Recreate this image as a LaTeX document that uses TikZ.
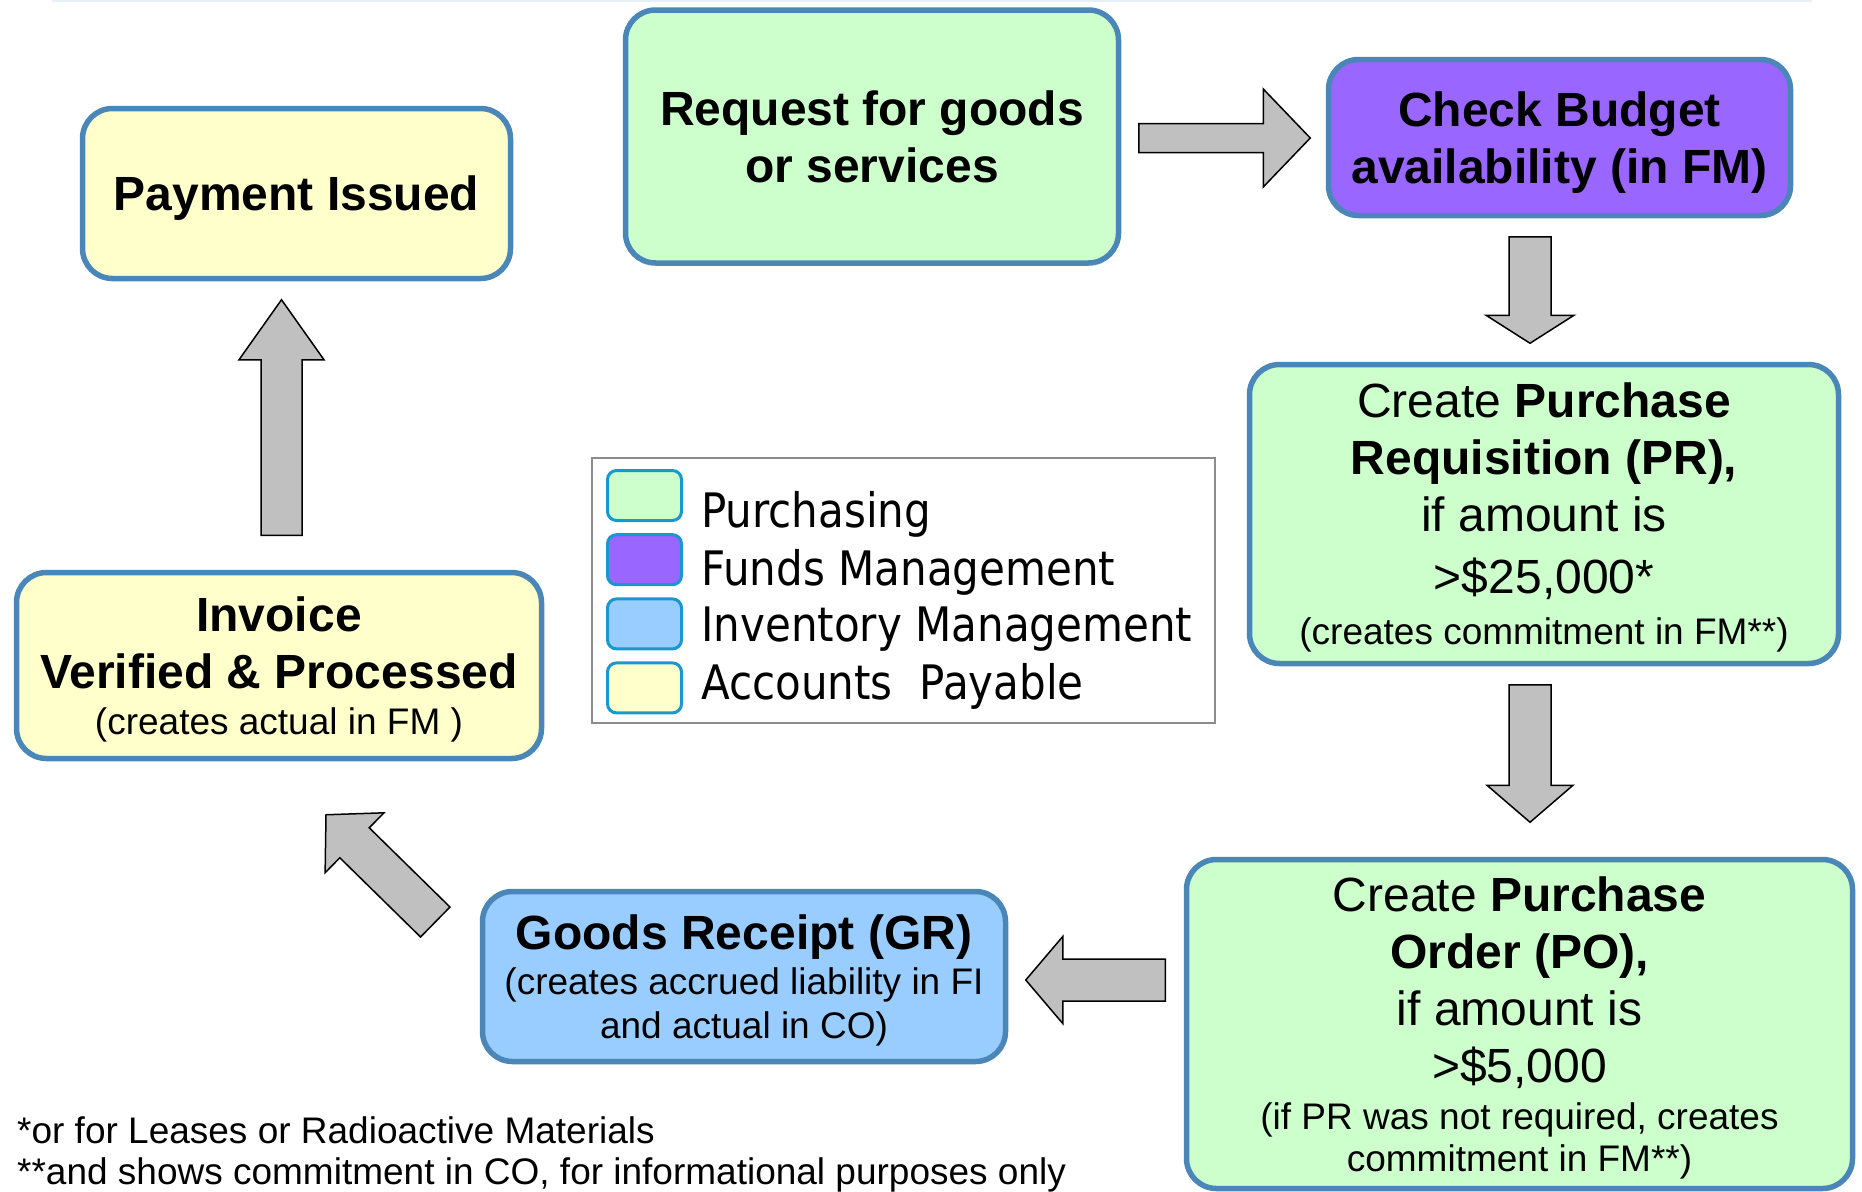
\documentclass[tikz,border=0pt]{standalone}
\usepackage{fontspec}
\setmainfont{Liberation Sans}
\newfontfamily\legendfamily{DejaVu Sans}[FakeStretch=0.885]
\usetikzlibrary{calc}

\definecolor{purchgreen}{HTML}{CCFFCC}
\definecolor{fmpurple}{HTML}{9966FF}
\definecolor{invblue}{HTML}{99CCFF}
\definecolor{apyellow}{HTML}{FFFFCC}
\definecolor{boxblue}{HTML}{4A87B8}
\definecolor{swatchblue}{HTML}{1799CF}
\definecolor{legendgray}{HTML}{8C8C8C}
\definecolor{arrowgray}{HTML}{C0C0C0}
\definecolor{rulecolor}{HTML}{E8EEF8}

\newcommand{\boxfont}{\fontsize{48}{57}\selectfont}
\newcommand{\notefont}{\fontsize{37}{45}\selectfont}
\newcommand{\legendfont}{\legendfamily\fontsize{47.5}{57}\selectfont}

\tikzset{
    stepbox/.style={draw=boxblue, line width=5.5pt, rounded corners=30pt,
                    align=center, inner sep=0pt, text depth=0pt, font=\boxfont},
    swatch/.style={draw=swatchblue, line width=3pt, rounded corners=9pt,
                   minimum width=74pt, minimum height=50pt, inner sep=0pt},
    legendtext/.style={anchor=base west, inner sep=0pt, font=\legendfont},
    notetext/.style={anchor=base west, inner sep=0pt, font=\notefont},
    bigarrow/.style={fill=arrowgray, draw=black, line width=1.5pt, line join=miter}
}

% fat arrow from #1 to #2: shaft half width, head half width, head length
\newcommand{\blockarrow}[5]{%
    \coordinate (neck) at ($(#2)!#5pt!(#1)$);
    \filldraw[bigarrow] ($(#1)!#3pt!90:(#2)$) -- ($(neck)!#3pt!-90:(#1)$)
        -- ($(neck)!#4pt!-90:(#1)$) -- (#2) -- ($(neck)!#4pt!90:(#1)$)
        -- ($(neck)!#3pt!90:(#1)$) -- ($(#1)!#3pt!-90:(#2)$) -- cycle;}

\begin{document}
\begin{tikzpicture}[x=1pt, y=-1pt]
    \useasboundingbox (0,0) rectangle (1862,1191);
    \draw[rulecolor, line width=2pt] (52,1) -- (1812,1);

    \node[stepbox, fill=purchgreen, minimum width=493pt, minimum height=253pt] (req) at (872,136.5)
        {\textbf{Request for goods}\\\textbf{or services}};
    \node[stepbox, fill=fmpurple, minimum width=462pt, minimum height=156pt] (chk) at (1559.5,137.5)
        {\textbf{Check Budget}\\\textbf{availability (in FM)}};
    \node[stepbox, fill=purchgreen, minimum width=589pt, minimum height=299pt] (pr) at (1544,514)
        {Create \textbf{Purchase}\\\textbf{Requisition (PR),}\\if amount is\\[5pt]>\$25,000*\\[-6pt]
         \notefont (creates commitment in FM**)};
    \node[stepbox, fill=purchgreen, minimum width=666pt, minimum height=329pt] (po) at (1519.5,1024)
        {Create \textbf{Purchase}\\\textbf{Order (PO),}\\if amount is\\>\$5,000\\[-10pt]
         \notefont (if PR was not required, creates\\[-15pt]\notefont commitment in FM**)};
    \node[stepbox, fill=invblue, minimum width=523pt, minimum height=170pt] (gr) at (744,976.5)
        {\textbf{Goods Receipt (GR)}\\[-12pt]\notefont (creates accrued liability in FI\\[-13pt]
         \notefont and actual in CO)};
    \node[stepbox, fill=apyellow, minimum width=525pt, minimum height=186pt] (inv) at (279,665.5)
        {\textbf{Invoice}\\\textbf{Verified \& Processed}\\[-11pt]\notefont (creates actual in FM )};
    \node[stepbox, fill=apyellow, minimum width=428pt, minimum height=170pt] (pay) at (296.5,193.5)
        {\textbf{Payment Issued}};

    % legend
    \node[draw=legendgray, line width=2.5pt, minimum width=623pt, minimum height=265pt,
          inner sep=0pt] (legend) at (903.5,590.5) {};
    \node[swatch, fill=purchgreen] (sw1) at (644.5,495.5) {};
    \node[swatch, fill=fmpurple] (sw2) at (644.5,559.7) {};
    \node[swatch, fill=invblue] (sw3) at (644.5,623.9) {};
    \node[swatch, fill=apyellow] (sw4) at (644.5,687.9) {};
    \node[legendtext] (lg1) at (701,527.3) {Purchasing};
    \node[legendtext] (lg2) at (701,585) {Funds Management};
    \node[legendtext] (lg3) at (701,641.7) {Inventory Management};
    \node[legendtext] (lg4) at (701,699.3) {Accounts~~Payable};

    % flow arrows
    \coordinate (a1s) at ($(req.east)+(17.5,1.5)$);
    \coordinate (a1e) at ($(chk.west)+(-15.5,0.5)$);
    \coordinate (a2s) at ($(chk.south)+(-29.5,18.5)$);
    \coordinate (a2e) at ($(pr.north)+(-14,-18.5)$);
    \coordinate (a3s) at ($(pr.south)+(-14,18.5)$);
    \coordinate (a3e) at ($(po.north)+(10.5,-34.5)$);
    \coordinate (a4s) at ($(po.west)+(-18.5,-44)$);
    \coordinate (a4e) at ($(gr.east)+(17.5,3.5)$);
    \coordinate (a5s) at ($(gr.west)+(-44.5,-54.5)$);
    \coordinate (a5e) at ($(inv.south)+(47,53.5)$);
    \coordinate (a6s) at ($(inv.north)+(2.5,-34.5)$);
    \coordinate (a6e) at ($(pay.south)+(-15,18.5)$);
    \blockarrow{a1s}{a1e}{14.5}{49}{47}
    \blockarrow{a2s}{a2e}{21}{44}{28}
    \blockarrow{a3s}{a3e}{21}{43}{37}
    \blockarrow{a4s}{a4e}{21}{43.5}{37}
    \blockarrow{a5s}{a5e}{21}{42}{40}
    \blockarrow{a6s}{a6e}{20.5}{42.5}{60}

    \node[notetext] (fn1) at (17,1143) {*or for Leases or Radioactive Materials};
    \node[notetext] (fn2) at (17,1184) {**and shows commitment in CO, for informational purposes only};
\end{tikzpicture}
\end{document}
